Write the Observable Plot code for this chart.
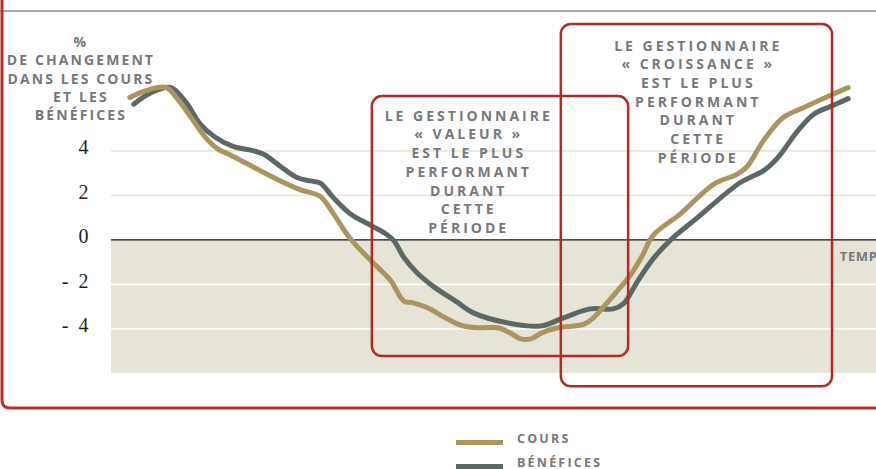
<!DOCTYPE html>
<html><head><meta charset="utf-8">
<script src="https://cdn.jsdelivr.net/npm/d3@7"></script>
<script src="https://cdn.jsdelivr.net/npm/@observablehq/plot@0.6"></script>
<style>
body{margin:0;background:#fff;width:876px;height:469px;overflow:hidden;}
#chart svg{display:block;overflow:visible;}
.lbl text{letter-spacing:3px;}
.ylbl text{letter-spacing:2.1px;}
.xlbl text{letter-spacing:0.6px;}
#legend{position:relative;height:49px;font-family:"Open Sans",sans-serif;font-weight:700;font-size:12.5px;letter-spacing:2.2px;color:#77787b;}
.item{position:absolute;left:456px;height:20px;}
.swatch{position:absolute;left:0;width:47px;height:5px;}
.item span{position:absolute;left:61px;top:0;white-space:nowrap;line-height:1;}
</style></head><body>
<div id="chart"></div>
<div id="legend"></div>
<script>
// Time index (0–100) and % change values
const coursT = [2.4,4.4,7.1,8.6,10.7,12.3,13.9,15.2,17.3,19.5,23.0,24.7,27.3,29.0,31.2,33.9,36.5,38.2,39.3,41.3,43.9,46.0,48.2,50.5,52.2,53.5,54.8,56.1,58.3,61.7,63.0,64.6,66.1,67.8,69.4,70.8,74.4,78.7,81.8,83.1,85.2,87.8,90.5,94.0,96.3];
const coursV = [6.4,6.7,6.85,6.35,5.35,4.6,4.09,3.87,3.5,3.1,2.5,2.25,1.95,1.18,0.06,-0.93,-1.83,-2.75,-2.82,-3.05,-3.55,-3.87,-3.95,-3.95,-4.2,-4.45,-4.45,-4.2,-3.95,-3.8,-3.5,-2.9,-2.3,-1.6,-0.7,0.2,1.18,2.5,2.96,3.3,4.45,5.5,5.95,6.5,6.85];
const benefT = [2.9,5.1,7.7,9.7,11.6,13.6,15.9,18.6,19.9,22.1,24.3,26.0,27.3,29.0,31.2,33.9,35.6,36.9,38.2,40.0,42.1,45.2,47.3,51.8,56.1,59.1,62.6,65.6,66.9,68.8,70.8,73.1,76.6,82.2,85.2,87.1,89.7,91.8,94.0,96.3];
const benefV = [6.1,6.6,6.85,6.2,5.2,4.6,4.2,4.0,3.85,3.3,2.79,2.65,2.55,1.9,1.18,0.65,0.33,-0.03,-0.78,-1.5,-2.1,-2.8,-3.28,-3.73,-3.87,-3.5,-3.1,-3.1,-2.88,-1.84,-0.85,0.0,1.0,2.58,3.1,3.7,4.9,5.65,6.0,6.35];
const yTicks = [-4,-2,0,2,4];
const yTickLabels = ["-\u20024","-\u20022","0","2","4"];
const seriesNames = ["COURS","BÉNÉFICES"];
const seriesColors = ["#ab955f","#5b6864"];
// highlight periods: [t1, t2, v1, v2]
const boxT1 = [34.1, 58.8];
const boxT2 = [67.6, 94.25];
const boxV1 = [-5.24, -6.6];
const boxV2 = [6.44, 9.68];
const boxLabels = ["LE GESTIONNAIRE\n« VALEUR »\nEST LE PLUS\nPERFORMANT\nDURANT\nCETTE\nPÉRIODE",
                   "LE GESTIONNAIRE\n« CROISSANCE »\nEST LE PLUS\nPERFORMANT\nDURANT\nCETTE\nPÉRIODE"];
const boxLabelT = [46.7, 76.7];
const boxLabelV = [5.95, 9.1];
const yTitle = "%\nDE CHANGEMENT\nDANS LES COURS\nET LES\nBÉNÉFICES";
const xTitle = "TEMPS";

const cours = coursT.map((t,i)=>({t, v: coursV[i]}));
const benef = benefT.map((t,i)=>({t, v: benefV[i]}));
const boxes = boxT1.map((d,i)=>({x1:d, x2:boxT2[i], y1:boxV1[i], y2:boxV2[i], label:boxLabels[i], lt:boxLabelT[i], lv:boxLabelV[i]}));

const W = 876, H = 420;
const plot = Plot.plot({
  width: W, height: H,
  marginLeft: 111, marginRight: 0, marginTop: 83.65, marginBottom: 47.1,
  x: {domain: [0, 100], axis: null},
  y: {domain: [-6, 7]},
  style: {background: "transparent"},
  marks: [
    Plot.rect([{}], {x1: 0, x2: 100, y1: -6, y2: 0, fill: "#e6e4d6"}),
    Plot.ruleY([2, 4], {stroke: "#e9e7da", strokeWidth: 1.6}),
    Plot.ruleY([-2, -4], {stroke: "#ffffff", strokeWidth: 1.6}),
    Plot.ruleY([0], {stroke: "#1a1718", strokeWidth: 1.3}),
    Plot.axisY({ticks: yTicks, tickSize: 0, tickPadding: 23, tickFormat: d => yTickLabels[yTicks.indexOf(d)], fontSize: 20, fontFamily: "Liberation Serif", fill: "#231f20", dy: -3, label: null}),
    Plot.line(benef, {x: "t", y: "v", stroke: seriesColors[1], strokeWidth: 5, curve: "catmull-rom"}),
    Plot.line(cours, {x: "t", y: "v", stroke: seriesColors[0], strokeWidth: 5, curve: "catmull-rom"}),
    Plot.rect(boxes, {x1: "x1", x2: "x2", y1: "y1", y2: "y2", fill: "none", stroke: "#b42b25", strokeWidth: 2.5, rx: 10}),
    Plot.text(boxes, {x: "lt", y: "lv", text: "label", lineAnchor: "top", lineHeight: 1.335, fontSize: 14, fontWeight: 700, fontFamily: "Open Sans", fill: "#77787b", className: "lbl"}),
    Plot.text([yTitle], {x: -4.0, y: 9.26, text: d => d, lineAnchor: "top", lineHeight: 1.31, fontSize: 14, fontWeight: 700, fontFamily: "Open Sans", fill: "#77787b", className: "ylbl"}),
    Plot.text([xTitle], {x: 95.2, y: -0.75, text: d => d, textAnchor: "start", fontSize: 13, fontWeight: 700, fontFamily: "Open Sans", fill: "#77787b", className: "xlbl"})
  ]
});
document.getElementById("chart").appendChild(plot);

// decorative frame
const svg = d3.select(plot);
svg.append("line").attr("x1", 0).attr("x2", W).attr("y1", 11).attr("y2", 11).attr("stroke", "#8c8c8c").attr("stroke-width", 1.5);
svg.append("path").attr("d", "M2,-5 L2,400 Q2,408 10,408 L880,408").attr("fill", "none").attr("stroke", "#b5302a").attr("stroke-width", 3);

// legend
const leg = d3.select("#legend");
const tops = [13, 37];
seriesNames.forEach((n, i) => {
  const it = leg.append("div").attr("class", "item").style("top", tops[i] + "px");
  it.append("div").attr("class", "swatch").style("top", (9 - 2.5) + "px").style("background", seriesColors[i]);
  it.append("span").text(n);
});
</script>
</body></html>
